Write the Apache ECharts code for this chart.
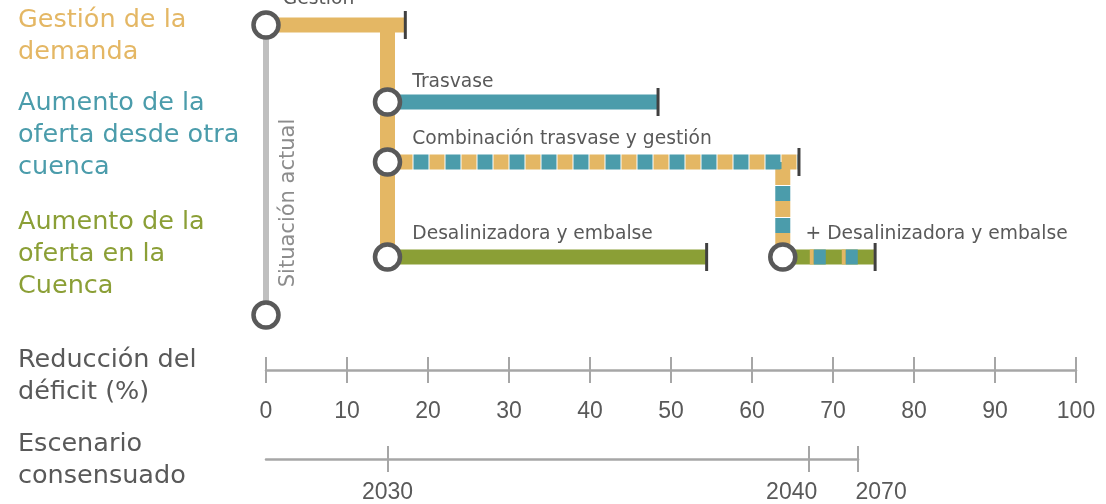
<!DOCTYPE html>
<html>
<head>
<meta charset="utf-8">
<script src="https://cdn.jsdelivr.net/npm/echarts@6.0.0/dist/echarts.min.js"></script>
<style>
  html, body { margin: 0; padding: 0; background: #fff; }
  #chart { width: 1106px; height: 504px; }
</style>
</head>
<body>
<div id="chart"></div>
<script>
// ramales del esquema: nombre, inicio y fin en % de reducción del déficit, nivel vertical (0 = arriba)
var ramales = ['Gestión', 'Trasvase', 'Combinación trasvase y gestión', 'Desalinizadora y embalse', '+ Desalinizadora y embalse'];
var inicio = [0, 15, 15, 15, 63.8];
var fin = [17.2, 48.4, 65.8, 54.4, 75.2];
var nivel = [0, 77, 137, 232, 232];
var nivelBase = 290;          // situación actual
var bifurcacionCombinacion = 63.8;

// escenario consensuado
var anios = ['2030', '2040', '2070'];
var aniosPos = [15, 67, 73.1];

var NARANJA = '#E4B764', AZUL = '#4B9CAB', VERDE = '#8B9F36', GRIS = '#595959';
var FUENTE = '"DejaVu Sans", sans-serif';
var FUENTE_EJE = '"Liberation Sans", Arial, sans-serif';

var chart = echarts.init(document.getElementById('chart'));

function linea(data, color, width, dash, offset, z) {
  return {
    type: 'line',
    data: data,
    symbol: 'none',
    silent: true,
    clip: false,
    z: z || 2,
    lineStyle: {
      color: color,
      width: width,
      type: dash || 'solid',
      dashOffset: offset || 0,
      cap: 'butt'
    }
  };
}

var series = [];
// situación actual (gris)
series.push(linea([[0, nivelBase], [0, nivel[0]]], '#BFBFBF', 6, null, 0, 1));
// gestión + tronco vertical
series.push(linea([[inicio[1], nivel[0]], [inicio[1], nivel[3]]], NARANJA, 15));
series.push(linea([[inicio[0], nivel[0]], [fin[0], nivel[0]]], NARANJA, 15));
// trasvase
series.push(linea([[inicio[1], nivel[1]], [fin[1], nivel[1]]], AZUL, 15));
// desalinizadora y embalse
series.push(linea([[inicio[3], nivel[3]], [fin[3], nivel[3]]], VERDE, 15));
// combinación: tramo vertical y horizontal a rayas
var combV = [[bifurcacionCombinacion, nivel[2]], [bifurcacionCombinacion, nivel[3]]];
series.push(linea(combV, NARANJA, 15, [16, 16], 25, 3));
series.push(linea(combV, AZUL, 15, [15, 17], 8, 3));
var combH = [[inicio[2], nivel[2]], [fin[2], nivel[2]]];
series.push(linea(combH, NARANJA, 15, [15, 17], 22, 4));
series.push(linea(combH, AZUL, 15, [15, 17], 6, 4));
// + desalinizadora y embalse
var plusD = [[inicio[4], nivel[4]], [fin[4], nivel[4]]];
series.push(linea(plusD, VERDE, 15, null, 0, 3));
series.push(linea(plusD, NARANJA, 15, [4, 28], 5, 3));
series.push(linea(plusD, AZUL, 15, [12, 20], 1, 3));

// marcas de final de cada ramal
series.push({
  type: 'scatter',
  silent: true,
  clip: false,
  z: 5,
  symbol: 'rect',
  symbolSize: [3, 28],
  itemStyle: { color: '#404040', opacity: 1 },
  data: fin.map(function (v, i) { return [v, nivel[i]]; })
});

// nodos (círculos) con sus etiquetas
var nodos = ramales.map(function (nombre, i) {
  return {
    value: [inicio[i], nivel[i]],
    label: {
      show: true,
      formatter: nombre,
      distance: i === 0 ? 2 : (i === 4 ? 8 : 10),
      offset: [0, i === 0 ? -26 : (i === 1 ? -20 : -23)]
    }
  };
});
nodos.push({ value: [0, nivelBase] });

series.push({
  type: 'scatter',
  silent: true,
  clip: false,
  z: 6,
  symbol: 'circle',
  symbolSize: 25,
  itemStyle: { color: '#fff', borderColor: GRIS, borderWidth: 4.5, opacity: 1 },
  label: {
    show: false,
    position: 'right',
    color: GRIS,
    fontSize: 18.7,
    fontFamily: FUENTE
  },
  data: nodos
});

function tituloIzq(texto, top, color) {
  return {
    text: texto,
    left: 18,
    top: top,
    padding: 0,
    textStyle: { color: color, fontSize: 25.5, lineHeight: 32, fontWeight: 'normal', fontFamily: FUENTE }
  };
}

var ejeGris = '#A6A6A6';
var anchoPlot = 1076 - 266;
var anchoEscenario = anchoPlot * aniosPos[aniosPos.length - 1] / 100;

// eje de valores sin nada dibujado salvo lo que se pida
function ejeX(grid, max, opts) {
  return Object.assign({
    gridIndex: grid, type: 'value', min: 0, max: max, position: 'bottom',
    axisLine: { show: false },
    axisTick: { show: false },
    axisLabel: { show: false },
    splitLine: { show: false }
  }, opts);
}

var tick = { color: ejeGris, width: 2 };

var option = {
  animation: false,
  title: [
    tituloIzq('Gestión de la\ndemanda', 4, NARANJA),
    tituloIzq('Aumento de la\noferta desde otra\ncuenca', 87, AZUL),
    tituloIzq('Aumento de la\noferta en la\nCuenca', 206, VERDE),
    tituloIzq('Reducción del\ndéficit (%)', 344, GRIS),
    tituloIzq('Escenario\nconsensuado', 428, GRIS)
  ],
  graphic: [{
    type: 'text',
    x: 289,
    y: 203,
    rotation: Math.PI / 2,
    silent: true,
    style: {
      text: 'Situación actual',
      fill: '#8C8C8C',
      font: '21px ' + FUENTE,
      align: 'center',
      verticalAlign: 'middle'
    }
  }],
  grid: [
    { left: 266, right: 30, top: 25, height: 290 },                 // esquema
    { left: 266, right: 30, top: 369, height: 1 },                  // eje % (marcas hacia abajo)
    { left: 266, right: 30, top: 369, height: 1 },                  // eje % (marcas hacia arriba)
    { left: 266, width: anchoEscenario, top: 458, height: 1 },      // escenario (abajo)
    { left: 266, width: anchoEscenario, top: 458, height: 1 }       // escenario (arriba)
  ],
  xAxis: [
    ejeX(0, 100, { show: false }),
    ejeX(1, 100, {
      interval: 10,
      axisLine: { show: true, lineStyle: { color: ejeGris, width: 2.5 } },
      axisTick: { show: true, length: 13, lineStyle: tick },
      axisLabel: { show: true, margin: 30, color: GRIS, fontSize: 23, fontFamily: FUENTE_EJE }
    }),
    ejeX(2, 100, {
      interval: 10,
      axisTick: { show: true, inside: true, length: 13, lineStyle: tick }
    }),
    ejeX(3, aniosPos[aniosPos.length - 1], {
      axisLine: { show: true, lineStyle: { color: ejeGris, width: 2.5 } },
      axisTick: { show: true, length: 13, customValues: aniosPos, lineStyle: tick },
      axisLabel: {
        show: true, margin: 22, color: GRIS, fontSize: 23, fontFamily: FUENTE_EJE,
        customValues: aniosPos,
        formatter: function (v) {
          var i = aniosPos.indexOf(v);
          if (i === 1) return '{izq|' + anios[i] + '}';
          if (i === 2) return '{der|' + anios[i] + '}';
          return anios[i] || '';
        },
        rich: {
          izq: { padding: [0, 34, 0, 0], color: GRIS, fontSize: 23, fontFamily: FUENTE_EJE },
          der: { padding: [0, 0, 0, 46], color: GRIS, fontSize: 23, fontFamily: FUENTE_EJE }
        }
      }
    }),
    ejeX(4, aniosPos[aniosPos.length - 1], {
      axisTick: { show: true, inside: true, length: 13, customValues: aniosPos, lineStyle: tick }
    })
  ],
  yAxis: [
    { gridIndex: 0, type: 'value', min: 0, max: nivelBase, inverse: true, show: false },
    { gridIndex: 1, type: 'value', show: false },
    { gridIndex: 2, type: 'value', show: false },
    { gridIndex: 3, type: 'value', show: false },
    { gridIndex: 4, type: 'value', show: false }
  ],
  series: series
};

chart.setOption(option);
</script>
</body>
</html>
